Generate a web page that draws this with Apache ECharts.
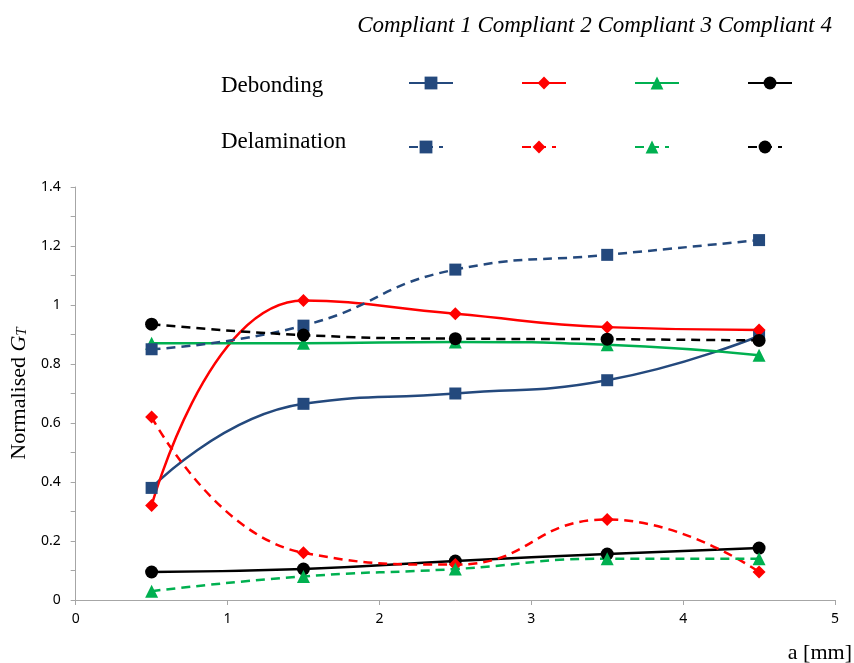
<!DOCTYPE html>
<html>
<head>
<meta charset="utf-8">
<script src="https://cdn.jsdelivr.net/npm/echarts@6/dist/echarts.min.js"></script>
<style>html,body{margin:0;padding:0;background:#fff}#c{width:854px;height:663px}</style>
</head>
<body>
<div id="c"></div>
<script>
const xValues = [0.5, 1.5, 2.5, 3.5, 4.5];
const compliantNames = ['Compliant 1', 'Compliant 2', 'Compliant 3', 'Compliant 4'];
const debonding1 = [0.38, 0.665, 0.70, 0.745, 0.895];
const debonding2 = [0.32, 1.015, 0.97, 0.925, 0.915];
const debonding3 = [0.87, 0.87, 0.875, 0.865, 0.83];
const debonding4 = [0.095, 0.105, 0.132, 0.156, 0.176];
const delamination1 = [0.85, 0.93, 1.12, 1.17, 1.22];
const delamination2 = [0.62, 0.16, 0.12, 0.273, 0.095];
const delamination3 = [0.03, 0.08, 0.105, 0.14, 0.14];
const delamination4 = [0.935, 0.898, 0.886, 0.884, 0.88];
const yTicks = { min: 0, max: 1.4, interval: 0.2 };
const xTicks = { min: 0, max: 5, interval: 1 };

const colors = ['#24497d', '#ff0000', '#00b050', '#000000'];
const symbols = ['rect', 'diamond', 'triangle', 'circle'];
const symbolSizes = [12, 13, 13, 13];
const debonding = [debonding1, debonding2, debonding3, debonding4];
const delamination = [delamination1, delamination2, delamination3, delamination4];

const series = [];
const legends = [];
const legendLeft = [403, 516, 629, 742];
for (let i = 0; i < 4; i++) {
  const nameD = compliantNames[i] + ' Debonding';
  series.push({
    name: nameD, type: 'line', smooth: 0.5,
    data: xValues.map((x, k) => [x, debonding[i][k]]),
    symbol: symbols[i], symbolSize: symbolSizes[i],
    lineStyle: { color: colors[i], width: 2.5, type: 'solid' },
    itemStyle: { color: colors[i] },
    z: 3
  });
  legends.push({
    data: [nameD], left: legendLeft[i], top: 70, itemWidth: 44, itemHeight: 16,
    formatter: () => '', selectedMode: false
  });
}
for (let i = 0; i < 4; i++) {
  const nameL = compliantNames[i] + ' Delamination';
  series.push({
    name: nameL, type: 'line', smooth: 0.5,
    data: xValues.map((x, k) => [x, delamination[i][k]]),
    symbol: symbols[i], symbolSize: symbolSizes[i],
    lineStyle: { color: colors[i], width: 2.5, type: [9, 6] },
    itemStyle: { color: colors[i] },
    z: 3
  });
  legends.push({
    data: [nameL], left: legendLeft[i], top: 134, itemWidth: 34, itemHeight: 16,
    formatter: () => '', selectedMode: false
  });
}

const chart = echarts.init(document.getElementById('c'), null, { renderer: 'canvas' });
chart.setOption({
  animation: false,
  backgroundColor: '#ffffff',
  title: [
    { text: compliantNames.join(' '), right: 17, top: 9,
      textStyle: { fontFamily: 'Liberation Serif', fontStyle: 'italic', fontWeight: 'normal', fontSize: 23, color: '#000' } },
    { text: 'Debonding', left: 216, top: 69,
      textStyle: { fontFamily: 'Liberation Serif', fontWeight: 'normal', fontSize: 23, color: '#000' } },
    { text: 'Delamination', left: 216, top: 125,
      textStyle: { fontFamily: 'Liberation Serif', fontWeight: 'normal', fontSize: 23, color: '#000' } },
    { text: 'a [mm]', right: -3, top: 637,
      textStyle: { fontFamily: 'Liberation Serif', fontWeight: 'normal', fontSize: 22, color: '#000' } }
  ],
  legend: legends,
  grid: { left: 72, right: 19, top: 187, bottom: 63, containLabel: false },
  xAxis: {
    type: 'value', min: xTicks.min, max: xTicks.max, interval: xTicks.interval,
    axisLine: { lineStyle: { color: '#a6a6a6', width: 1 } },
    axisTick: { show: true, length: 5, lineStyle: { color: '#a6a6a6' } },
    axisLabel: { color: '#000', fontFamily: 'Noto Sans', fontSize: 14, margin: 12 },
    splitLine: { show: false }
  },
  yAxis: {
    type: 'value', min: yTicks.min, max: yTicks.max, interval: yTicks.interval,
    name: '{n|Normalised }{g|G}{t|T}',
    nameLocation: 'middle', nameGap: 44, nameRotate: 90,
    nameTextStyle: {
      rich: {
        n: { fontFamily: 'Liberation Serif', fontSize: 22, color: '#000' },
        g: { fontFamily: 'Liberation Serif', fontStyle: 'italic', fontSize: 22, color: '#000' },
        t: { fontFamily: 'Liberation Serif', fontStyle: 'italic', fontSize: 15, color: '#000', verticalAlign: 'bottom', padding: [6, 0, 0, 0] }
      }
    },
    axisLine: { show: true, lineStyle: { color: '#a6a6a6', width: 1 } },
    axisTick: { show: true, length: 5, lineStyle: { color: '#a6a6a6' } },
    minorTick: { show: true, splitNumber: 2, length: 5, lineStyle: { color: '#a6a6a6' } },
    axisLabel: { color: '#000', fontFamily: 'Noto Sans', fontSize: 14, margin: 15 },
    splitLine: { show: false }
  },
  series: series
});
</script>
</body>
</html>
